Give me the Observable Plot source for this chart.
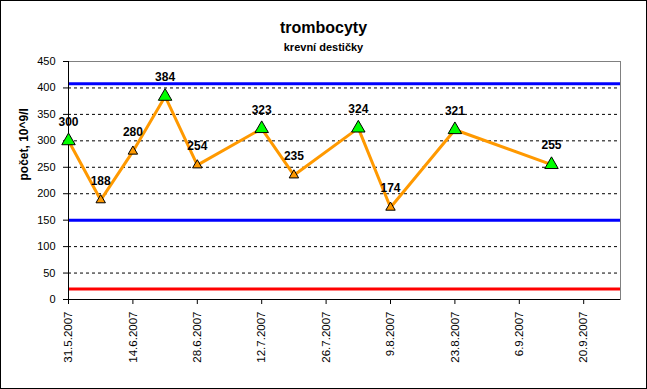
<!DOCTYPE html>
<html>
<head>
<meta charset="utf-8">
<script src="https://cdn.jsdelivr.net/npm/d3@7"></script>
<script src="https://cdn.jsdelivr.net/npm/@observablehq/plot@0.6"></script>
<style>
  html, body { margin: 0; padding: 0; background: #fff; }
  #wrap { position: relative; width: 647px; height: 389px; font-family: "Liberation Sans", Arial, sans-serif; }
  #wrap svg { position: absolute; left: 0; top: 0; outline: 1px solid #000; outline-offset: -1px; }
  .ttl { position: absolute; left: 0; width: 647px; text-align: center; font-weight: bold; color: #000; white-space: nowrap; z-index: 2; }
  #title { top: 18px; font-size: 16px; line-height: 20px; }
  #subtitle { top: 40px; font-size: 11px; line-height: 14px; }
</style>
</head>
<body>
<div id="wrap">
  <div class="ttl" id="title">trombocyty</div>
  <div class="ttl" id="subtitle">krevní destičky</div>
</div>
<script>
// --- data ---
const dates = ["2007-05-31","2007-06-07","2007-06-14","2007-06-21","2007-06-28","2007-07-12","2007-07-19","2007-08-02","2007-08-09","2007-08-23","2007-09-13"];
const values = [300, 188, 280, 384, 254, 323, 235, 324, 174, 321, 255];
const highlighted = [true, false, false, true, false, true, false, true, false, true, true];
const xTickDates = ["2007-05-31","2007-06-14","2007-06-28","2007-07-12","2007-07-26","2007-08-09","2007-08-23","2007-09-06","2007-09-20"];
const xDomain = ["2007-05-31","2007-09-28"];
const yTicks = [0, 50, 100, 150, 200, 250, 300, 350, 400, 450];
const upperLimit = 408;
const lowerLimit = 150;
const criticalLimit = 20;
const yLabel = "počet, 10^9/l";

const parse = d3.utcParse("%Y-%m-%d");
const data = dates.map((d, i) => ({date: parse(d), value: values[i], hi: highlighted[i]}));
const fmt = d => `${d.getUTCDate()}.${d.getUTCMonth() + 1}.${d.getUTCFullYear()}`;

const chart = Plot.plot({
  width: 647,
  height: 389,
  marginLeft: 68,
  marginRight: 27,
  marginTop: 61,
  marginBottom: 90,
  style: {fontFamily: '"Liberation Sans", Arial, sans-serif', fontSize: "11px", background: "transparent", color: "#000"},
  x: {type: "utc", domain: xDomain.map(parse)},
  y: {domain: [0, 450]},
  marks: [
    Plot.frame({stroke: "#808080"}),
    Plot.gridY(yTicks.filter(v => v > 0 && v < 450), {stroke: "#000", strokeOpacity: 1, strokeDasharray: "3,3"}),
    Plot.ruleY([upperLimit, lowerLimit], {stroke: "#0000ff", strokeWidth: 3}),
    Plot.ruleY([criticalLimit], {stroke: "#ff0000", strokeWidth: 3}),
    Plot.axisY(yTicks, {tickSize: 5, tickPadding: 8, fontSize: 11, label: null}),
    Plot.axisX(xTickDates.map(parse), {tickSize: 5, tickPadding: 7, tickRotate: -90, tickFormat: fmt, fontSize: 11.5, label: null}),
    Plot.ruleX([parse(xDomain[0])], {stroke: "#000"}),
    Plot.ruleY([0], {stroke: "#000"}),
    Plot.line(data, {x: "date", y: "value", stroke: "#ff9900", strokeWidth: 3}),
    Plot.dot(data.filter(d => !d.hi), {x: "date", y: "value", symbol: "triangle", r: 3.5, fill: "#ff9900", stroke: "#000", strokeWidth: 1}),
    Plot.dot(data.filter(d => d.hi), {x: "date", y: "value", symbol: "triangle", r: 5, fill: "#00ff00", stroke: "#000", strokeWidth: 1}),
    Plot.text(data, {x: "date", y: "value", text: d => String(d.value), dy: -19, fontWeight: "bold", fontSize: 12, fill: "#000"}),
    Plot.text([yLabel], {frameAnchor: "left", dx: -44, rotate: -90, fontWeight: "bold", fontSize: 12, fill: "#000"})
  ]
});
document.getElementById("wrap").appendChild(chart);
</script>
</body>
</html>
